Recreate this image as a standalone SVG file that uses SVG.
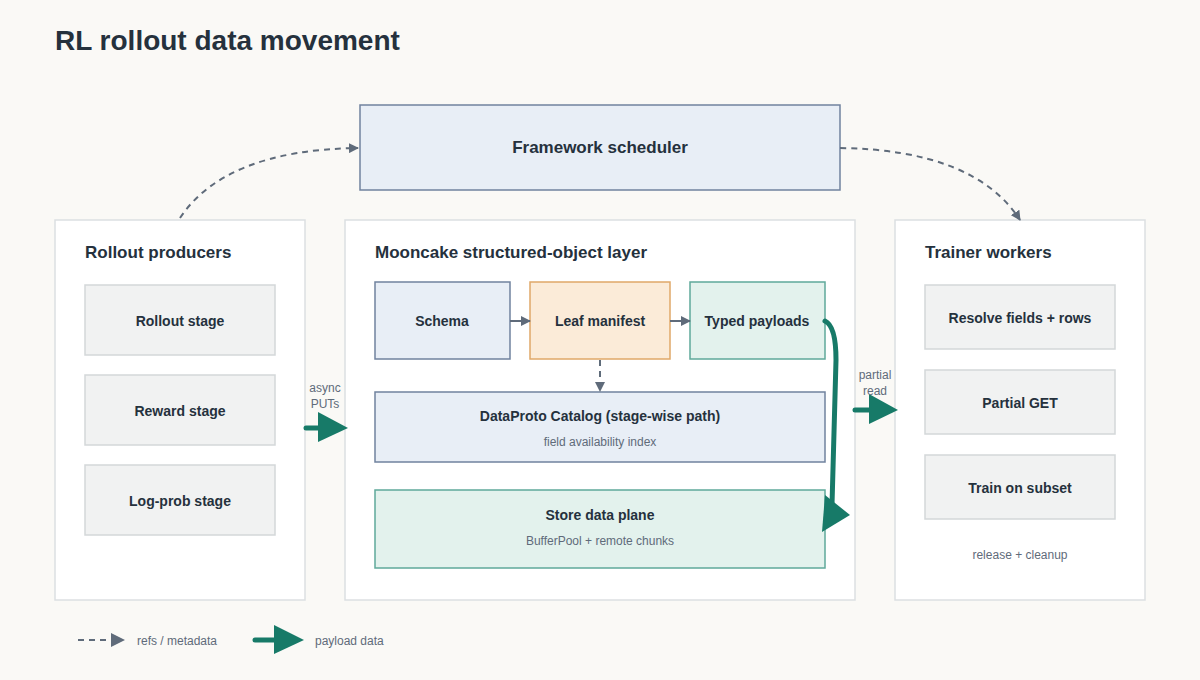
<svg xmlns="http://www.w3.org/2000/svg" width="1200" height="680" viewBox="0 0 1200 680">
<defs>
<marker id="ah" viewBox="0 0 10 10" refX="9" refY="5" markerWidth="10" markerHeight="10" markerUnits="userSpaceOnUse" orient="auto"><path d="M0,0 L10,5 L0,10 z" fill="#5f6b7a"/></marker>
</defs>
<style>
text{font-family:"Liberation Sans",Arial,sans-serif}
.panel{fill:#fff;stroke:#dcdfe2;stroke-width:1.5}
.gray{fill:#f1f2f2;stroke:#d3d7d9;stroke-width:1.5}
.blue{fill:#e8eef6;stroke:#70829e;stroke-width:1.5}
.org{fill:#fbebd8;stroke:#e0a868;stroke-width:1.5}
.grn{fill:#e3f2ed;stroke:#5fa99a;stroke-width:1.5}
.h{font-size:17px;font-weight:bold;fill:#25313d}
.b{font-size:14px;font-weight:bold;fill:#25313d;text-anchor:middle}
.s{font-size:12px;fill:#5f6b7a;text-anchor:middle}
.dash{fill:none;stroke:#5f6b7a;stroke-width:2;stroke-dasharray:6 5}
.thin{fill:none;stroke:#5f6b7a;stroke-width:2}
.pay{fill:none;stroke:#177a68;stroke-width:5;stroke-linecap:round}
.ph{fill:#177a68}
</style>
<rect width="1200" height="680" fill="#faf9f6"/>
<text x="55" y="50" style="font-size:28px;font-weight:bold;fill:#25313d">RL rollout data movement</text>
<g id="scheduler"><rect x="360" y="105" width="480" height="85" class="blue"/><text x="600" y="153" class="b" style="font-size:17px">Framework scheduler</text></g>
<g id="producers"><rect x="55" y="220" width="250" height="380" class="panel"/><text x="85" y="258" class="h">Rollout producers</text>
<g id="rollout"><rect x="85" y="285" width="190" height="70" class="gray"/><text x="180" y="326" class="b">Rollout stage</text></g>
<g id="reward"><rect x="85" y="375" width="190" height="70" class="gray"/><text x="180" y="416" class="b">Reward stage</text></g>
<g id="logprob"><rect x="85" y="465" width="190" height="70" class="gray"/><text x="180" y="506" class="b">Log-prob stage</text></g></g>
<g id="mooncake"><rect x="345" y="220" width="510" height="380" class="panel"/><text x="375" y="258" class="h">Mooncake structured-object layer</text>
<g id="schema"><rect x="375" y="282" width="135" height="77" class="blue"/><text x="442" y="326" class="b">Schema</text></g>
<g id="leaf"><rect x="530" y="282" width="140" height="77" class="org"/><text x="600" y="326" class="b">Leaf manifest</text></g>
<g id="typed"><rect x="690" y="282" width="135" height="77" class="grn"/><text x="757" y="326" class="b">Typed payloads</text></g>
<g id="catalog"><rect x="375" y="392" width="450" height="70" class="blue"/><text x="600" y="421" class="b">DataProto Catalog (stage-wise path)</text><text x="600" y="446" class="s">field availability index</text></g>
<g id="store"><rect x="375" y="490" width="450" height="78" class="grn"/><text x="600" y="520" class="b">Store data plane</text><text x="600" y="545" class="s">BufferPool + remote chunks</text></g></g>
<g id="trainer"><rect x="895" y="220" width="250" height="380" class="panel"/><text x="925" y="258" class="h">Trainer workers</text>
<g id="resolve"><rect x="925" y="285" width="190" height="64" class="gray"/><text x="1020" y="323" class="b">Resolve fields + rows</text></g>
<g id="pget"><rect x="925" y="370" width="190" height="64" class="gray"/><text x="1020" y="408" class="b">Partial GET</text></g>
<g id="train"><rect x="925" y="455" width="190" height="64" class="gray"/><text x="1020" y="493" class="b">Train on subset</text></g>
<text x="1020" y="559" class="s">release + cleanup</text></g>
<g id="connectors">
<path d="M180,218 Q225,150 358,148" class="dash" marker-end="url(#ah)"/>
<path d="M840,148 Q975,150 1020,220" class="dash" marker-end="url(#ah)"/>
<path d="M510,321 L530,321" class="thin" marker-end="url(#ah)"/>
<path d="M670,321 L690,321" class="thin" marker-end="url(#ah)"/>
<path d="M600,360 L600,391" class="dash" marker-end="url(#ah)"/>
<path d="M306,428 L322,428" class="pay"/><polygon points="318,412 348,428 318,442" class="ph"/>
<text x="325" y="392" class="s">async</text><text x="325" y="408" class="s">PUTs</text>
<path d="M855,410 L872,410" class="pay"/><polygon points="869,394 898,410 869,424" class="ph"/>
<text x="875" y="379" class="s">partial</text><text x="875" y="395" class="s">read</text>
<path d="M825,321 Q836,326 836,360 L832,505" class="pay"/><polygon points="825,495 850,515 822,532" class="ph"/>
</g>
<g id="legend">
<path d="M78,640 L112,640" class="dash"/><path d="M111,633 L125,640 L111,647 z" fill="#5f6b7a"/>
<text x="137" y="645" style="font-size:12px;fill:#5f6b7a">refs / metadata</text>
<path d="M255,640 L275,640" class="pay"/><polygon points="274,625 304,640 274,654" class="ph"/>
<text x="315" y="645" style="font-size:12px;fill:#5f6b7a">payload data</text>
</g>
</svg>
